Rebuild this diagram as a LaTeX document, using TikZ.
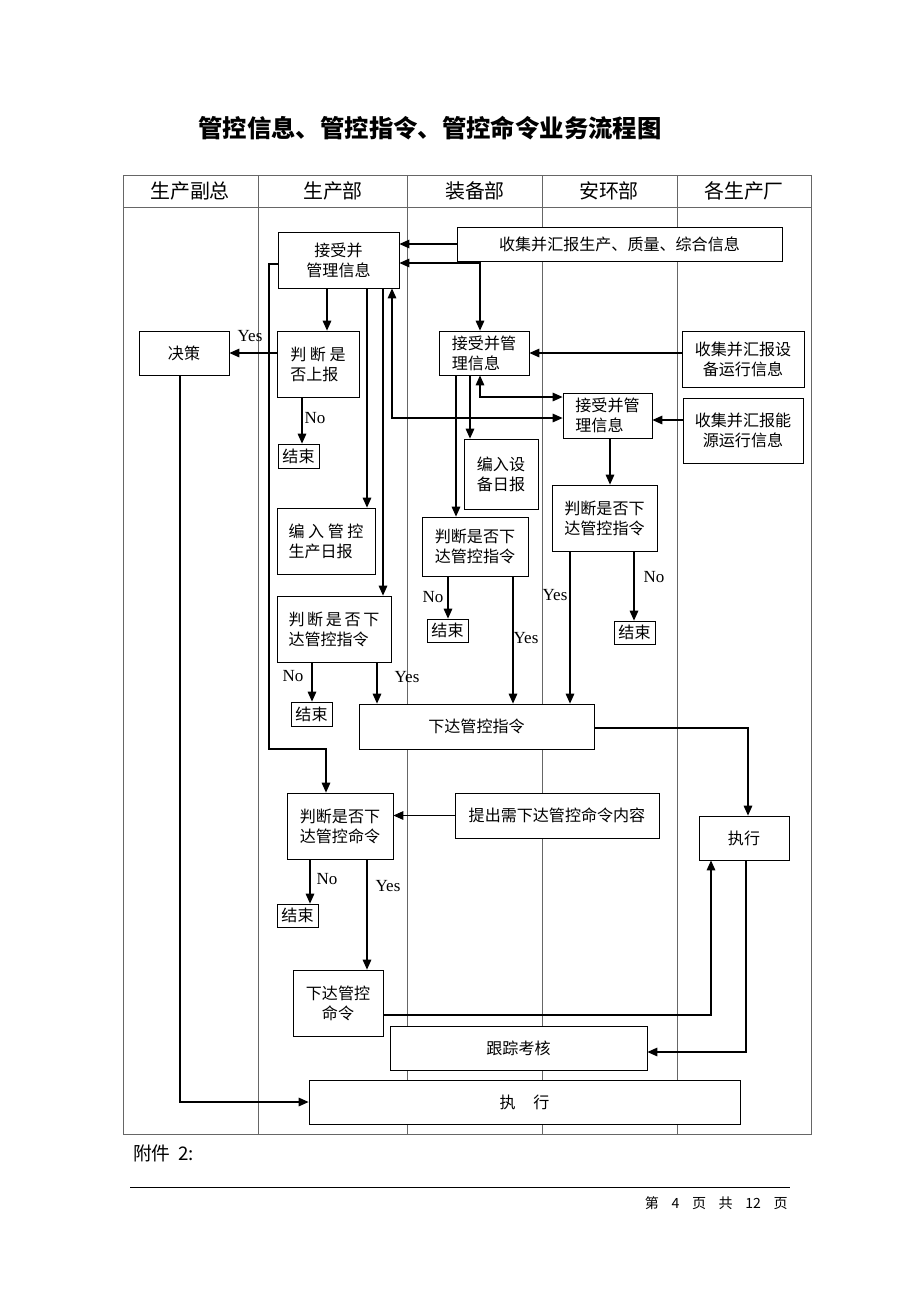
\documentclass[tikz,border=0pt]{standalone}
\usepackage{fontspec}
\setmainfont{Liberation Serif}
\newfontfamily\cjk{Noto Sans CJK SC}
\usetikzlibrary{arrows.meta}
\newcommand\bx[7][]{%
  \node[procbox,#1,minimum width={(#5-#3)*0.03cm},minimum height={(#6-#4)*0.03cm}] (#2) at ({(#3+#5)/2},{(#4+#6)/2}) {#7};}
\begin{document}
\begin{tikzpicture}[x=0.03cm,y=-0.03cm,
  >={Triangle[length=3mm,width=2.6mm]},
  procbox/.style={draw=black,fill=white,line width=0.7pt,rectangle,inner sep=0pt,align=center,font=\cjk\fontsize{13.7}{17}\selectfont},
  arr/.style={->,line width=0.9pt},
  arr2/.style={<->,line width=0.9pt},
  tbl/.style={draw=black!60,line width=0.6pt},
  lab/.style={inner sep=0pt,font=\fontsize{14.5}{17}\selectfont},
  hdr/.style={inner sep=0pt,font=\cjk\fontsize{17}{20}\selectfont}]
\useasboundingbox[fill=white] (0,0) rectangle (920,1302);

% title
\node[inner sep=0pt,font=\cjk\bfseries\fontsize{20.8}{24}\selectfont] (title) at (430,128) {管控信息、管控指令、管控命令业务流程图};

% lanes
\draw[tbl] (123,175) rectangle (811,1134);
\draw[tbl] (123,207) -- (811,207);
\foreach \xx in {258,407,542,677} \draw[tbl] (\xx,175) -- (\xx,1134);
\node[hdr] (h1) at (190,191) {生产副总};
\node[hdr] (h2) at (333,191) {生产部};
\node[hdr] (h3) at (475,191) {装备部};
\node[hdr] (h4) at (609,191) {安环部};
\node[hdr] (h5) at (744,191) {各生产厂};

% boxes
\bx{A}{278}{232}{399}{288}{接受并\\管理信息}
\bx{B}{457}{227}{782}{261}{收集并汇报生产、质量、综合信息}
\bx[align=left]{C}{439}{331}{529}{375}{接受并管\\理信息}
\bx{D}{682}{331}{804}{387}{收集并汇报设\\备运行信息}
\bx[align=left]{E}{563}{393}{652}{438}{接受并管\\理信息}
\bx{F}{683}{398}{803}{463}{收集并汇报能\\源运行信息}
\bx{G}{464}{439}{538}{509}{编入设\\备日报}
\bx{H}{422}{517}{528}{576}{判断是否下\\达管控指令}
\bx{I}{552}{485}{657}{551}{判断是否下\\达管控指令}
\bx{J}{359}{704}{594}{749}{下达管控指令}
\bx{K}{699}{816}{789}{860}{执行}
\bx[align=left]{L}{277}{331}{359}{397}{判 断 是\\否上报}
\bx{M}{139}{331}{229}{375}{决策}
\bx[align=left]{N}{277}{508}{375}{574}{编 入 管 控\\生产日报}
\bx[align=left]{O}{277}{596}{391}{662}{判\,断\,是\,否\,下\\达管控指令}
\bx{P}{287}{793}{393}{859}{判断是否下\\达管控命令}
\bx{Q}{455}{793}{659}{838}{提出需下达管控命令内容}
\bx{R}{293}{970}{383}{1036}{下达管控\\命令}
\bx{S}{390}{1026}{647}{1070}{跟踪考核}
\bx{T}{309}{1080}{740}{1124}{执\hspace{1.1em}行}
\bx{E1}{278}{444}{319}{468}{结束}
\bx{E2}{427}{619}{468}{642}{结束}
\bx{E3}{614}{621}{655}{644}{结束}
\bx{E4}{291}{702}{332}{726}{结束}
\bx{E5}{277}{904}{318}{927}{结束}

% connectors
\draw[arr] (B.west) -- (B.west -| A.east);
\draw[arr2] (A.east |- 0,263) -- (480,263) -- (C.north -| 480,0);
\draw[arr] (D.west |- 0,353) -- (C.east |- 0,353);
\draw[arr2] (C.south -| 480,0) -- (480,397) -- (E.west |- 0,397);
\draw[arr2] (A.south -| 392,0) -- (392,418) -- (E.west |- 0,418);
\draw[arr] (F.west |- 0,420) -- (E.east |- 0,420);
\draw[arr] (C.south -| 470,0) -- (G.north -| 470,0);
\draw[arr] (C.south -| 456,0) -- (H.north -| 456,0);
\draw[arr] (H.south -| 448,0) -- (E2.north -| 448,0);
\draw[arr] (H.south -| 513,0) -- (J.north -| 513,0);
\draw[arr] (E.south -| 610,0) -- (I.north -| 610,0);
\draw[arr] (I.south -| 570,0) -- (J.north -| 570,0);
\draw[arr] (I.south -| 634,0) -- (E3.north -| 634,0);
\draw[arr] (J.east |- 0,728) -- (748,728) -- (K.north -| 748,0);
\draw[arr] (A.south -| 327,0) -- (L.north -| 327,0);
\draw[arr] (L.west |- 0,353) -- (M.east |- 0,353);
\draw[arr] (L.south -| 302,0) -- (E1.north -| 302,0);
\draw[arr] (A.south -| 367,0) -- (N.north -| 367,0);
\draw[arr] (A.south -| 383,0) -- (O.north -| 383,0);
\draw[arr] (O.south -| 312,0) -- (E4.north -| 312,0);
\draw[arr] (O.south -| 377,0) -- (J.north -| 377,0);
\draw[arr] (A.west |- 0,264) -- (269,264) -- (269,749) -- (326,749) -- (P.north -| 326,0);
\draw[arr] (Q.west) -- (Q.west -| P.east);
\draw[arr] (P.south -| 310,0) -- (E5.north -| 310,0);
\draw[arr] (P.south -| 367,0) -- (R.north -| 367,0);
\draw[arr] (R.east |- 0,1015) -- (711,1015) -- (K.south -| 711,0);
\draw[arr] (K.south -| 746,0) -- (746,1052) -- (S.east |- 0,1052);
\draw[arr] (M.south -| 180,0) -- (180,1102) -- (T.west);

% labels
\node[lab] (y1) at (250,336) {Yes};
\node[lab] (n1) at (315,418) {No};
\node[lab] (n2) at (433,597) {No};
\node[lab] (y2) at (526,638) {Yes};
\node[lab] (y3) at (555,595) {Yes};
\node[lab] (n3) at (654,577) {No};
\node[lab] (n4) at (293,676) {No};
\node[lab] (y4) at (407,677) {Yes};
\node[lab] (n5) at (327,879) {No};
\node[lab] (y5) at (388,886) {Yes};

% footer
\node[anchor=west,inner sep=0pt,font=\cjk\fontsize{16}{18}\selectfont] (att) at (133,1153) {附件\hspace{0.4em}2:};
\draw[line width=0.8pt] (130,1187) -- (790,1187);
\node[anchor=east,inner sep=0pt,font=\cjk\fontsize{12}{14}\selectfont] (pg) at (788,1203) {第\hspace{0.9em}4\hspace{0.9em}页\hspace{0.9em}共\hspace{0.9em}12\hspace{0.9em}页};
\end{tikzpicture}
\end{document}
